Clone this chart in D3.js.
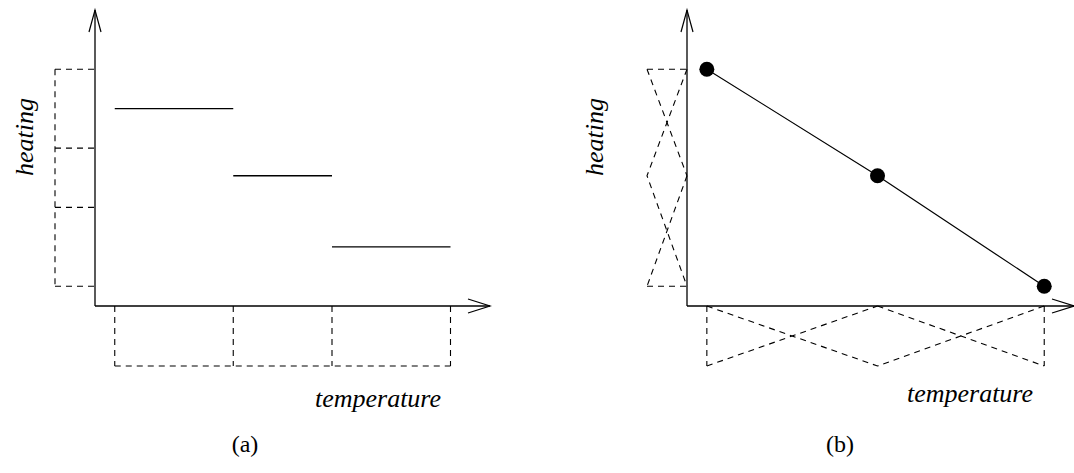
<!DOCTYPE html>
<html>
<head>
<meta charset="utf-8">
<script src="https://cdn.jsdelivr.net/npm/d3@7"></script>
<style>
  html, body { margin: 0; padding: 0; background: #fff; }
  svg { display: block; }
  .lbl { font-family: "Liberation Serif", "Times New Roman", Times, serif; fill: #000; }
</style>
</head>
<body>
<svg id="chart" width="1074" height="473"></svg>
<script>
// (a) crisp intervals: temperature bands map to heating bands, output is the band midpoint
const tempBreaks = [0, 6, 11, 17];
const heatBreaks = [12, 8, 5, 1];
const stepLevels = [10, 6.6, 3];

// (b) triangular fuzzy sets on both axes, interpolated through their peaks
const tempCenters = [0, 8.6, 17];
const heatCenters = [12, 6.6, 1];

const axisLabels = { x: "temperature", y: "heating" };
const panelTags = ["(a)", "(b)"];

const svg = d3.select("#chart");
const ink = "#000";
const dash = "6,5";
const dashW = 1.1;

function arrowAxes(g, x0, y0, x1, y1) {
  // vertical axis with open arrow head
  g.append("line").attr("x1", x0).attr("y1", y0).attr("x2", x0).attr("y2", y1)
    .attr("stroke", ink).attr("stroke-width", 1.3);
  g.append("path").attr("d", `M${x0 - 6},${y1 + 22}L${x0},${y1}L${x0 + 6},${y1 + 22}`)
    .attr("fill", "none").attr("stroke", ink).attr("stroke-width", 1.2);
  // horizontal axis with open arrow head
  g.append("line").attr("x1", x0).attr("y1", y0).attr("x2", x1).attr("y2", y0)
    .attr("stroke", ink).attr("stroke-width", 1.3);
  g.append("path").attr("d", `M${x1 - 22},${y0 - 7}L${x1},${y0}L${x1 - 22},${y0 + 7}`)
    .attr("fill", "none").attr("stroke", ink).attr("stroke-width", 1.2);
}

function labels(g, tx, ty, hx, hy) {
  g.append("text").attr("class", "lbl").attr("x", tx).attr("y", ty)
    .attr("font-size", 26).attr("font-style", "italic").attr("text-anchor", "middle")
    .text(axisLabels.x);
  g.append("text").attr("class", "lbl")
    .attr("transform", `translate(${hx},${hy}) rotate(-90)`)
    .attr("font-size", 26).attr("font-style", "italic").attr("text-anchor", "middle")
    .text(axisLabels.y);
}

// shared heating scale
const y = d3.scaleLinear().domain([0, 15]).range([306, 10]);

/* ---------------- panel (a) ---------------- */
{
  const g = svg.append("g");
  const x = d3.scaleLinear().domain([-1, 19]).range([95, 490]);
  const mx = d3.scaleLinear().domain([0, 1]).range([95, 55]);   // left interval bracket
  const my = d3.scaleLinear().domain([0, 1]).range([306, 366]); // bottom interval bracket

  arrowAxes(g, x(-1), y(0), x(19), y(15));

  // heating bands
  g.selectAll(".hb").data(heatBreaks).join("line")
    .attr("x1", mx(1)).attr("x2", mx(0))
    .attr("y1", d => y(d)).attr("y2", d => y(d))
    .attr("stroke", ink).attr("stroke-width", dashW).attr("stroke-dasharray", dash);
  g.append("line")
    .attr("x1", mx(1)).attr("x2", mx(1))
    .attr("y1", y(d3.max(heatBreaks))).attr("y2", y(d3.min(heatBreaks)))
    .attr("stroke", ink).attr("stroke-width", dashW).attr("stroke-dasharray", dash);

  // temperature bands
  g.selectAll(".tb").data(tempBreaks).join("line")
    .attr("x1", d => x(d)).attr("x2", d => x(d))
    .attr("y1", my(0)).attr("y2", my(1))
    .attr("stroke", ink).attr("stroke-width", dashW).attr("stroke-dasharray", dash);
  g.append("line")
    .attr("x1", x(tempBreaks[0])).attr("x2", x(tempBreaks[tempBreaks.length - 1]))
    .attr("y1", my(1)).attr("y2", my(1))
    .attr("stroke", ink).attr("stroke-width", dashW).attr("stroke-dasharray", dash);

  // step output
  g.selectAll(".step").data(stepLevels).join("line")
    .attr("x1", (d, i) => x(tempBreaks[i])).attr("x2", (d, i) => x(tempBreaks[i + 1]))
    .attr("y1", d => y(d)).attr("y2", d => y(d))
    .attr("stroke", ink).attr("stroke-width", 1.3);

  labels(g, 378, 407, 33, 137);
  g.append("text").attr("class", "lbl").attr("x", 245).attr("y", 452)
    .attr("font-size", 24).attr("text-anchor", "middle").text(panelTags[0]);
}

/* ---------------- panel (b) ---------------- */
{
  const g = svg.append("g");
  const x = d3.scaleLinear().domain([-1, 18.5]).range([687, 1074]);
  const mx = d3.scaleLinear().domain([0, 1]).range([687, 647]);
  const my = d3.scaleLinear().domain([0, 1]).range([306, 366]);

  arrowAxes(g, x(-1), y(0), x(18.5), y(15));

  // triangular memberships on heating
  const n = heatCenters.length;
  const triH = heatCenters.map((c, i) => {
    const pts = [];
    if (i > 0) pts.push([0, heatCenters[i - 1]]);
    pts.push([1, c]);
    if (i < n - 1) pts.push([0, heatCenters[i + 1]]);
    return pts;
  });
  const lineH = d3.line().x(d => mx(d[0])).y(d => y(d[1]));
  g.selectAll(".th").data(triH).join("path")
    .attr("d", lineH).attr("fill", "none")
    .attr("stroke", ink).attr("stroke-width", dashW).attr("stroke-dasharray", dash);
  g.selectAll(".thEnd").data([heatCenters[0], heatCenters[n - 1]]).join("line")
    .attr("x1", mx(1)).attr("x2", mx(0))
    .attr("y1", d => y(d)).attr("y2", d => y(d))
    .attr("stroke", ink).attr("stroke-width", dashW).attr("stroke-dasharray", dash);

  // triangular memberships on temperature
  const m = tempCenters.length;
  const triT = tempCenters.map((c, i) => {
    const pts = [];
    if (i > 0) pts.push([tempCenters[i - 1], 0]);
    pts.push([c, 1]);
    if (i < m - 1) pts.push([tempCenters[i + 1], 0]);
    return pts;
  });
  const lineT = d3.line().x(d => x(d[0])).y(d => my(d[1]));
  g.selectAll(".tt").data(triT).join("path")
    .attr("d", lineT).attr("fill", "none")
    .attr("stroke", ink).attr("stroke-width", dashW).attr("stroke-dasharray", dash);
  g.selectAll(".ttEnd").data([tempCenters[0], tempCenters[m - 1]]).join("line")
    .attr("x1", d => x(d)).attr("x2", d => x(d))
    .attr("y1", my(0)).attr("y2", my(1))
    .attr("stroke", ink).attr("stroke-width", dashW).attr("stroke-dasharray", dash);

  // interpolated output through the rule peaks
  const pts = tempCenters.map((t, i) => [t, heatCenters[i]]);
  g.append("path").datum(pts)
    .attr("d", d3.line().x(d => x(d[0])).y(d => y(d[1])))
    .attr("fill", "none").attr("stroke", ink).attr("stroke-width", 1.2);
  g.selectAll(".pt").data(pts).join("circle")
    .attr("cx", d => x(d[0])).attr("cy", d => y(d[1])).attr("r", 7.5)
    .attr("fill", ink);

  labels(g, 970, 402, 603, 137);
  g.append("text").attr("class", "lbl").attr("x", 840).attr("y", 452)
    .attr("font-size", 24).attr("text-anchor", "middle").text(panelTags[1]);
}
</script>
</body>
</html>
